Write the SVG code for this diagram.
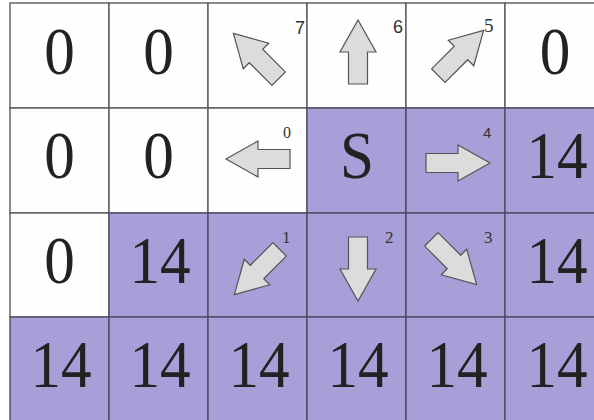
<svg xmlns="http://www.w3.org/2000/svg" width="594" height="420" viewBox="0 0 594 420">
<defs>
<style>
.w{fill:#fefefe;stroke:#5a5a5a;stroke-width:1.4}
.p{fill:#a89fd8;stroke:#4e4a66;stroke-width:1.4}
.big{font-family:"Liberation Serif","Times New Roman",serif;font-size:68px;fill:#222;text-anchor:middle}
.ss{font-family:"Liberation Sans",Arial,sans-serif;fill:#333}
.sr{font-family:"Liberation Serif","Times New Roman",serif;fill:#333}
.ar{fill:#dcdcdc;stroke:#555;stroke-width:1.2;stroke-linejoin:miter}
</style>
<polygon id="arr" points="-32,-9.5 0,-9.5 0,-18 32,0 0,18 0,9.5 -32,9.5"/>
</defs>
<rect x="0" y="0" width="594" height="420" fill="#ffffff"/>

<g id="r0c0"><rect class="w" x="10" y="3" width="99" height="105"/><text class="big" transform="translate(59.5,74) scale(0.9,1)">0</text></g>
<g id="r0c1"><rect class="w" x="109" y="3" width="99" height="105"/><text class="big" transform="translate(158.5,74) scale(0.9,1)">0</text></g>
<g id="r0c2"><rect class="w" x="208" y="3" width="99" height="105"/><use href="#arr" class="ar" transform="translate(256,56) rotate(-135)"/><text class="ss" x="295" y="34" font-size="18">7</text></g>
<g id="r0c3"><rect class="w" x="307" y="3" width="99" height="105"/><use href="#arr" class="ar" transform="translate(358,52) rotate(-90)"/><text class="ss" x="393" y="33" font-size="18">6</text></g>
<g id="r0c4"><rect class="w" x="406" y="3" width="99" height="105"/><use href="#arr" class="ar" transform="translate(461,53) rotate(-45)"/><text class="sr" x="484" y="32" font-size="19">5</text></g>
<g id="r0c5"><rect class="w" x="505" y="3" width="99" height="105"/><text class="big" transform="translate(555,74) scale(0.9,1)">0</text></g>

<g id="r1c0"><rect class="w" x="10" y="108" width="99" height="105"/><text class="big" transform="translate(59.5,178) scale(0.9,1)">0</text></g>
<g id="r1c1"><rect class="w" x="109" y="108" width="99" height="105"/><text class="big" transform="translate(158.5,178) scale(0.9,1)">0</text></g>
<g id="r1c2"><rect class="w" x="208" y="108" width="99" height="105"/><use href="#arr" class="ar" transform="translate(258,159) rotate(180)"/><text class="sr" x="283" y="138" font-size="16">0</text></g>
<g id="r1c3"><rect class="p" x="307" y="108" width="99" height="105"/><text class="big" transform="translate(357,178) scale(0.9,1)">S</text></g>
<g id="r1c4"><rect class="p" x="406" y="108" width="99" height="105"/><use href="#arr" class="ar" transform="translate(458,163)"/><text class="ss" x="483" y="138" font-size="15">4</text></g>
<g id="r1c5"><rect class="p" x="505" y="108" width="99" height="105"/><text class="big" transform="translate(557,178) scale(0.9,1)">14</text></g>

<g id="r2c0"><rect class="w" x="10" y="213" width="99" height="104"/><text class="big" transform="translate(59.5,283) scale(0.9,1)">0</text></g>
<g id="r2c1"><rect class="p" x="109" y="213" width="99" height="104"/><text class="big" transform="translate(160,283) scale(0.9,1)">14</text></g>
<g id="r2c2"><rect class="p" x="208" y="213" width="99" height="104"/><use href="#arr" class="ar" transform="translate(257,272) rotate(135)"/><text class="sr" x="282" y="243" font-size="17">1</text></g>
<g id="r2c3"><rect class="p" x="307" y="213" width="99" height="104"/><use href="#arr" class="ar" transform="translate(358,269) rotate(90)"/><text class="sr" x="385" y="243" font-size="17">2</text></g>
<g id="r2c4"><rect class="p" x="406" y="213" width="99" height="104"/><use href="#arr" class="ar" transform="translate(454,262) rotate(45)"/><text class="sr" x="484" y="243" font-size="17">3</text></g>
<g id="r2c5"><rect class="p" x="505" y="213" width="99" height="104"/><text class="big" transform="translate(557,283) scale(0.9,1)">14</text></g>

<g id="r3c0"><rect class="p" x="10" y="317" width="99" height="105"/><text class="big" transform="translate(61,387) scale(0.9,1)">14</text></g>
<g id="r3c1"><rect class="p" x="109" y="317" width="99" height="105"/><text class="big" transform="translate(160,387) scale(0.9,1)">14</text></g>
<g id="r3c2"><rect class="p" x="208" y="317" width="99" height="105"/><text class="big" transform="translate(259,387) scale(0.9,1)">14</text></g>
<g id="r3c3"><rect class="p" x="307" y="317" width="99" height="105"/><text class="big" transform="translate(358,387) scale(0.9,1)">14</text></g>
<g id="r3c4"><rect class="p" x="406" y="317" width="99" height="105"/><text class="big" transform="translate(457,387) scale(0.9,1)">14</text></g>
<g id="r3c5"><rect class="p" x="505" y="317" width="99" height="105"/><text class="big" transform="translate(557,387) scale(0.9,1)">14</text></g>
<g id="connectors"/>
</svg>
